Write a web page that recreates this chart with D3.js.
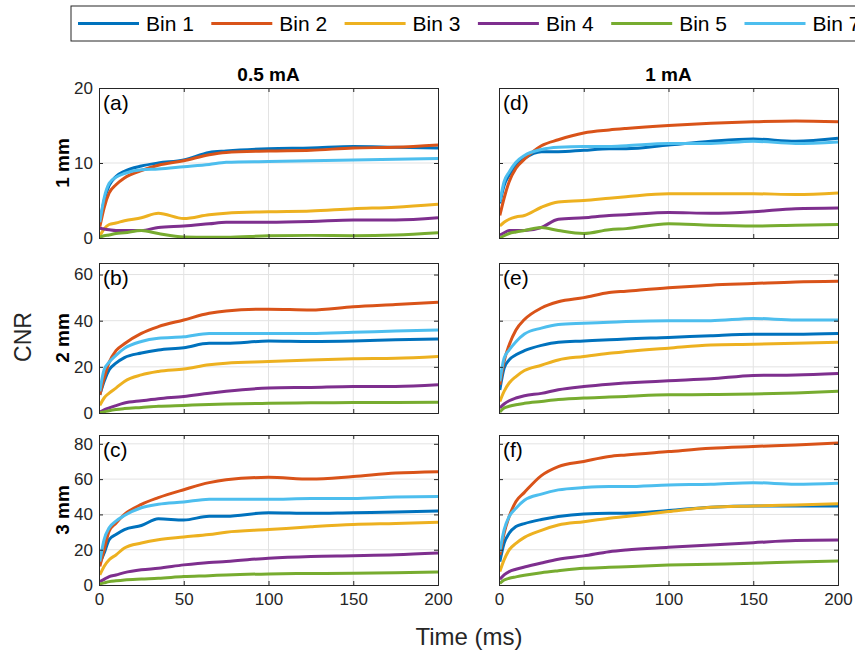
<!DOCTYPE html>
<html>
<head>
<meta charset="utf-8">
<script src="https://cdn.jsdelivr.net/npm/d3@7"></script>
<style>
  body { margin: 0; background: #fff; }
  svg { font-family: 'Liberation Sans', Arial, sans-serif; }
</style>
</head>
<body>
<div id="chart"></div>
<script>
// sample times (ms)
var times = [0.5, 3, 6, 10, 15, 25, 35, 50, 65, 75, 100, 125, 150, 175, 200];
var bins = ['Bin 1', 'Bin 2', 'Bin 3', 'Bin 4', 'Bin 5', 'Bin 7'];
var colors = ['#0072BD', '#D95319', '#EDB120', '#7E2F8E', '#77AC30', '#4DBEEE'];
var xTicks = [0, 50, 100, 150, 200];
var colTitles = ['0.5 mA', '1 mA'];
var rowTitles = ['1 mm', '2 mm', '3 mm'];

// CNR per bin (rows follow bins order)
var cnrA = [
  [2.0, 5.0, 7.0, 8.2, 8.9, 9.6, 10.0, 10.4, 11.4, 11.6, 11.9, 12.0, 12.2, 12.1, 12.0],
  [1.5, 4.0, 6.0, 7.1, 8.0, 9.0, 9.7, 10.3, 11.1, 11.4, 11.6, 11.7, 12.0, 12.1, 12.4],
  [0.3, 1.2, 1.8, 2.0, 2.3, 2.7, 3.3, 2.6, 3.1, 3.3, 3.5, 3.6, 3.9, 4.1, 4.5],
  [1.3, 1.2, 1.1, 1.0, 1.0, 1.0, 1.4, 1.6, 1.9, 2.1, 2.1, 2.2, 2.4, 2.4, 2.7],
  [0.1, 0.3, 0.4, 0.6, 0.7, 1.0, 0.6, 0.15, 0.1, 0.1, 0.3, 0.35, 0.3, 0.4, 0.7],
  [2.1, 5.3, 7.3, 8.1, 8.6, 9.1, 9.2, 9.5, 9.8, 10.1, 10.2, 10.3, 10.4, 10.5, 10.6]
];
var cnrB = [
  [7.9, 13.7, 18.7, 21.6, 24, 26, 27.3, 28.3, 30.2, 30.2, 31.2, 31, 31.2, 31.7, 32.1],
  [7.9, 15, 22, 27, 30, 34.5, 37.4, 40.3, 43.2, 44.2, 45, 44.6, 46, 47, 48],
  [3.3, 6.5, 8.6, 10.8, 13.7, 16.5, 18, 19.1, 20.9, 21.6, 22.3, 23, 23.5, 23.7, 24.5],
  [0.4, 1.4, 2.2, 3.2, 4.3, 5.3, 6.2, 7.2, 8.6, 9.4, 10.8, 11.1, 11.5, 11.5, 12.2],
  [0.1, 0.5, 1.0, 1.5, 1.9, 2.4, 2.9, 3.3, 3.7, 3.9, 4.2, 4.4, 4.6, 4.6, 4.7],
  [9.4, 18.7, 22, 25, 28, 31, 32.4, 33, 34.5, 34.5, 34.5, 34.5, 35, 35.5, 36]
];
var cnrC = [
  [12.4, 18, 25.7, 28.6, 31.4, 33.7, 37.5, 36.8, 39, 39, 41, 40.6, 41, 41.3, 41.9],
  [10.5, 20, 30.5, 35, 40, 45.7, 49.5, 54, 58, 59.6, 61, 60, 61.5, 63.4, 64.2],
  [5.7, 10.5, 14.3, 17, 21, 23.8, 25.7, 27.2, 28.6, 29.9, 31.4, 33, 34.3, 34.9, 35.6],
  [1.9, 3.2, 4.8, 5.7, 7, 8.6, 9.5, 11.4, 12.8, 13.3, 15.2, 16.2, 16.6, 17.1, 18.1],
  [0.6, 1.2, 1.9, 2.4, 2.9, 3.4, 3.8, 4.8, 5.3, 5.7, 6.3, 6.5, 6.7, 7.0, 7.4],
  [13.3, 25.7, 32.4, 36.2, 39.4, 43.8, 45.7, 47, 48.6, 48.6, 48.6, 49, 49, 49.9, 50.1]
];
var cnrD = [
  [4.6, 7.0, 8.4, 9.7, 10.6, 11.5, 11.5, 11.7, 11.9, 11.9, 12.4, 12.9, 13.2, 12.9, 13.3],
  [3.0, 5.3, 7.5, 9.3, 10.5, 12.3, 13.1, 14, 14.4, 14.6, 15, 15.3, 15.5, 15.6, 15.5],
  [1.6, 2.1, 2.5, 2.8, 3.0, 4.1, 4.8, 5.0, 5.3, 5.5, 5.9, 5.9, 5.9, 5.8, 6.0],
  [0.4, 0.7, 1.0, 1.0, 1.0, 1.4, 2.5, 2.7, 3.0, 3.1, 3.4, 3.3, 3.5, 3.9, 4.0],
  [0.0, 0.3, 0.6, 0.8, 1.0, 1.4, 1.0, 0.6, 1.1, 1.25, 1.9, 1.7, 1.6, 1.7, 1.8],
  [4.8, 7.5, 8.8, 10.1, 11.0, 11.8, 12.1, 12.2, 12.2, 12.3, 12.6, 12.6, 12.9, 12.6, 12.8]
];
var cnrE = [
  [10, 19.4, 23, 25.2, 27.0, 29.3, 30.7, 31.2, 31.7, 32.1, 32.7, 33.5, 34.1, 34.1, 34.4],
  [12.2, 22.3, 29.5, 36, 40.5, 45.5, 48.2, 50, 52.2, 52.8, 54.3, 55.4, 56.1, 56.8, 57.1],
  [5, 9.4, 13, 15.8, 18.4, 20.7, 23, 24.5, 25.9, 26.6, 28.1, 29.5, 29.8, 30.2, 30.7],
  [2.2, 3.9, 5.3, 6.5, 7.5, 8.5, 10.1, 11.5, 12.5, 13, 14, 14.8, 16.3, 16.5, 17.1],
  [0.4, 2.2, 2.9, 3.6, 4.2, 5.0, 5.8, 6.5, 6.9, 7.2, 7.9, 8.0, 8.2, 8.7, 9.4],
  [13.7, 23.7, 27.3, 30.9, 34.2, 36.8, 38.4, 38.9, 39.3, 39.6, 40, 40, 41, 40.3, 40.3]
];
var cnrF = [
  [13.2, 23.6, 29.3, 33.1, 34.8, 37.1, 38.8, 40.3, 40.7, 40.7, 42.2, 44.1, 44.8, 44.8, 44.8],
  [17, 29.3, 38.8, 47.3, 52.5, 62, 67.1, 70, 72.8, 73.7, 75.6, 77.5, 78.5, 79.4, 80.4],
  [7.6, 14.2, 19.9, 23.6, 27, 31, 34, 35.9, 37.8, 38.8, 41.6, 44.1, 44.8, 45.4, 46],
  [3.2, 5.7, 7.6, 8.9, 10.2, 12.5, 14.6, 16.5, 18.9, 19.9, 21.4, 22.7, 24, 25.2, 25.5],
  [0.9, 2.8, 3.8, 4.6, 5.5, 7.0, 8.1, 9.5, 10.0, 10.4, 11.3, 11.8, 12.3, 13.0, 13.6],
  [18.9, 31.2, 38.8, 43.5, 48, 51.5, 53.9, 55.2, 55.8, 55.8, 56.7, 57.1, 58, 57.1, 57.7]
];

var panels = [
  { label: '(a)', data: cnrA, col: 0, row: 0, yMax: 20, yTicks: [0, 10, 20] },
  { label: '(b)', data: cnrB, col: 0, row: 1, yMax: 65, yTicks: [0, 20, 40, 60] },
  { label: '(c)', data: cnrC, col: 0, row: 2, yMax: 85, yTicks: [0, 20, 40, 60, 80] },
  { label: '(d)', data: cnrD, col: 1, row: 0, yMax: 20, yTicks: [0, 10, 20] },
  { label: '(e)', data: cnrE, col: 1, row: 1, yMax: 65, yTicks: [0, 20, 40, 60] },
  { label: '(f)', data: cnrF, col: 1, row: 2, yMax: 85, yTicks: [0, 20, 40, 60, 80] }
];

var width = 855, height = 654;
var colX = [99, 499], panelW = 339;
var rowY = [88, 263, 435], panelH = 150;
var axisColor = '#262626';

var svg = d3.select('#chart').append('svg')
  .attr('width', width)
  .attr('height', height);

// legend (runs off the right edge, as in the source figure)
var legend = svg.append('g').attr('class', 'legend');
legend.append('rect')
  .attr('x', 71).attr('y', 6)
  .attr('width', 800).attr('height', 35)
  .attr('fill', '#fff')
  .attr('stroke', axisColor)
  .attr('stroke-width', 1);
bins.forEach(function(b, i) {
  var lx = 78 + i * 133.3;
  legend.append('line')
    .attr('x1', lx).attr('x2', lx + 61)
    .attr('y1', 23.5).attr('y2', 23.5)
    .attr('stroke', colors[i])
    .attr('stroke-width', 3);
  legend.append('text')
    .attr('x', lx + 68).attr('y', 31)
    .attr('font-size', 21)
    .attr('fill', '#000')
    .text(b);
});

var x = d3.scaleLinear().domain([0, 200]).range([0, panelW]);

panels.forEach(function(p) {
  var y = d3.scaleLinear().domain([0, p.yMax]).range([panelH, 0]);
  var g = svg.append('g')
    .attr('transform', 'translate(' + colX[p.col] + ',' + rowY[p.row] + ')');

  // grid
  g.append('g').attr('class', 'grid')
    .selectAll('line.gx').data(xTicks.slice(1, -1)).enter()
    .append('line')
    .attr('x1', function(d) { return x(d); })
    .attr('x2', function(d) { return x(d); })
    .attr('y1', 0).attr('y2', panelH)
    .attr('stroke', '#e3e3e3').attr('stroke-width', 1);
  g.select('.grid')
    .selectAll('line.gy').data(p.yTicks.filter(function(t) { return t > 0 && t < p.yMax; })).enter()
    .append('line')
    .attr('x1', 0).attr('x2', panelW)
    .attr('y1', function(d) { return y(d); })
    .attr('y2', function(d) { return y(d); })
    .attr('stroke', '#e3e3e3').attr('stroke-width', 1);

  var clipId = 'clip' + p.col + p.row;
  g.append('clipPath').attr('id', clipId)
    .append('rect').attr('width', panelW).attr('height', panelH + 1.5).attr('y', -1);

  var line = d3.line()
    .x(function(d, i) { return x(times[i]); })
    .y(function(d) { return y(d); })
    .curve(d3.curveMonotoneX);

  g.append('g').attr('clip-path', 'url(#' + clipId + ')')
    .selectAll('path').data(p.data).enter()
    .append('path')
    .attr('d', line)
    .attr('fill', 'none')
    .attr('stroke', function(d, i) { return colors[i]; })
    .attr('stroke-width', 3)
    .attr('stroke-linejoin', 'round');

  // axes (ticks inside, on all four sides)
  var showY = p.col === 0, showX = p.row === 2;
  var left = d3.axisLeft(y).tickValues(p.yTicks).tickSize(-4).tickPadding(6)
    .tickFormat(showY ? d3.format('d') : '');
  var right = d3.axisRight(y).tickValues(p.yTicks).tickSize(-4).tickFormat('');
  var bottom = d3.axisBottom(x).tickValues(xTicks).tickSize(-4).tickPadding(8)
    .tickFormat(showX ? d3.format('d') : '');
  var top = d3.axisTop(x).tickValues(xTicks).tickSize(-4).tickFormat('');

  [
    g.append('g').call(left),
    g.append('g').attr('transform', 'translate(' + panelW + ',0)').call(right),
    g.append('g').attr('transform', 'translate(0,' + panelH + ')').call(bottom),
    g.append('g').call(top)
  ].forEach(function(a) {
    a.select('.domain').attr('stroke', axisColor);
    a.selectAll('.tick line').attr('stroke', axisColor);
    a.selectAll('.tick text')
      .attr('font-size', 17)
      .attr('fill', axisColor)
      .attr('font-family', "'Liberation Sans', Arial, sans-serif");
  });

  g.append('text')
    .attr('x', 4).attr('y', 22)
    .attr('font-size', 21)
    .attr('fill', '#000')
    .text(p.label);
});

// column titles
colTitles.forEach(function(t, i) {
  svg.append('text')
    .attr('x', colX[i] + panelW / 2).attr('y', 81)
    .attr('text-anchor', 'middle')
    .attr('font-size', 19).attr('font-weight', 'bold')
    .attr('fill', '#000')
    .text(t);
});

// row titles
rowTitles.forEach(function(t, i) {
  var cy = rowY[i] + panelH / 2;
  svg.append('text')
    .attr('transform', 'translate(69,' + cy + ') rotate(-90)')
    .attr('text-anchor', 'middle')
    .attr('font-size', 19).attr('font-weight', 'bold')
    .attr('fill', '#000')
    .text(t);
});

svg.append('text')
  .attr('transform', 'translate(31,337) rotate(-90)')
  .attr('text-anchor', 'middle')
  .attr('font-size', 23)
  .attr('fill', axisColor)
  .text('CNR');

svg.append('text')
  .attr('x', 469).attr('y', 645)
  .attr('text-anchor', 'middle')
  .attr('font-size', 24)
  .attr('fill', axisColor)
  .text('Time (ms)');
</script>
</body>
</html>
